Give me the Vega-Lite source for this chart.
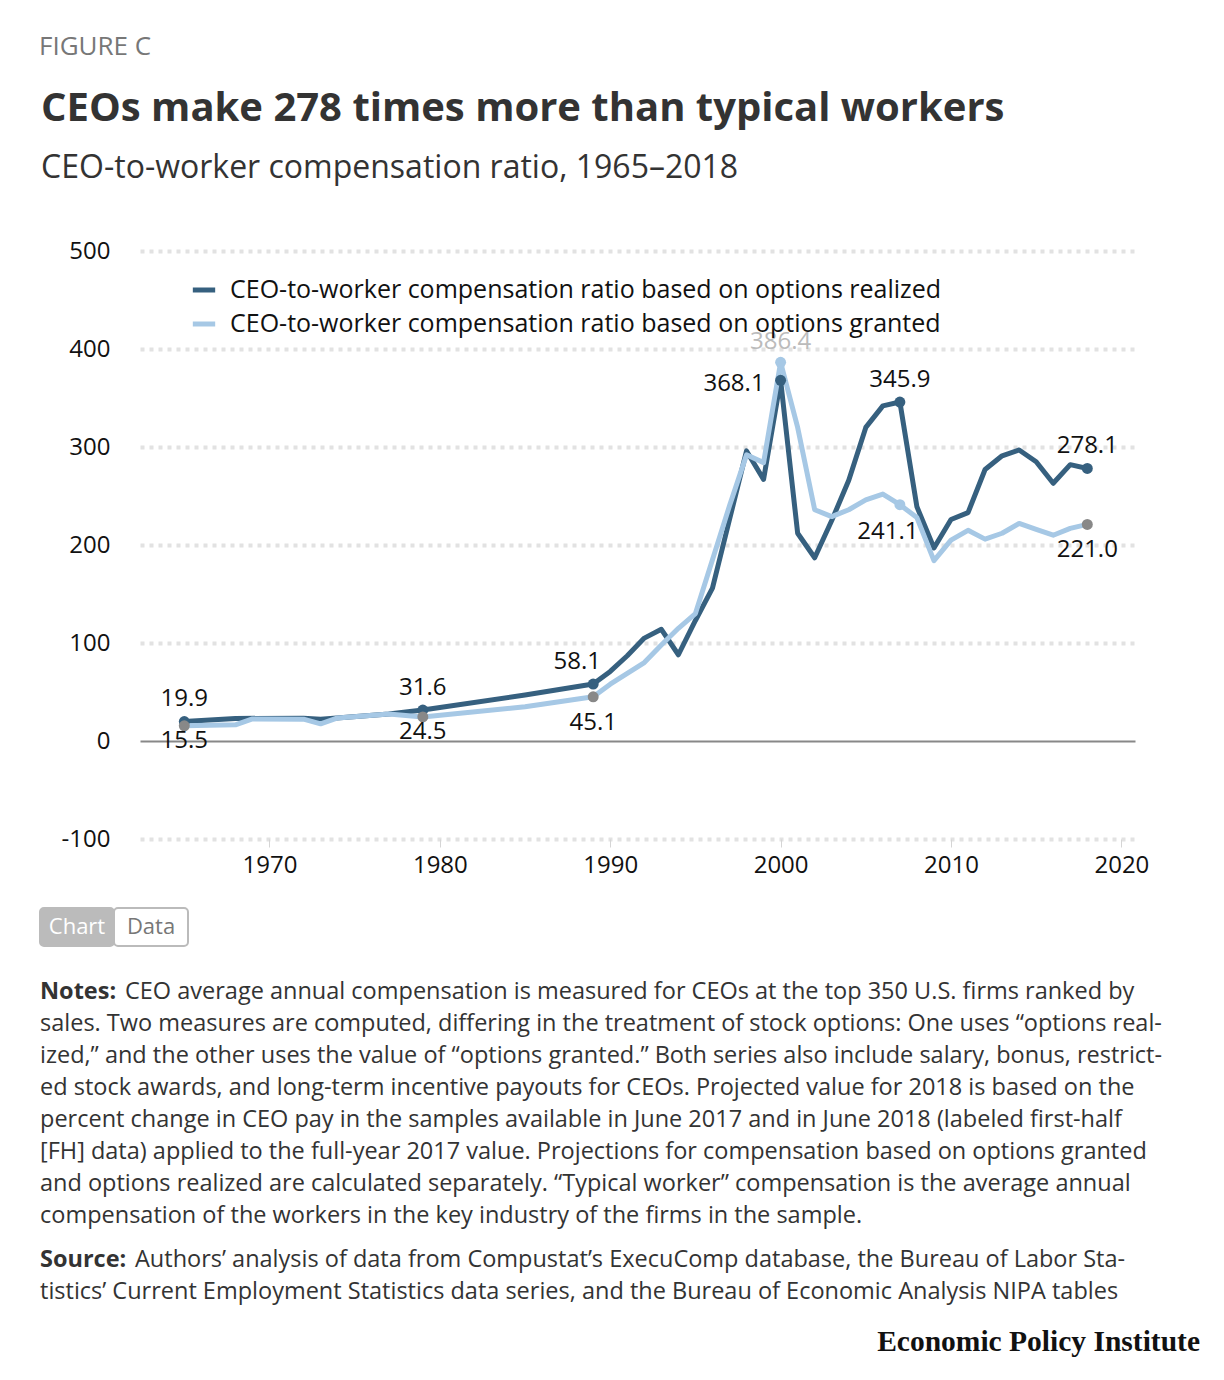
{
  "$schema": "https://vega.github.io/schema/vega-lite/v6.json",
  "background": "white",
  "padding": {"left": 39, "top": 34, "right": 24, "bottom": 10},
  "title": {"text": "FIGURE C", "anchor": "start", "font": "Open Sans", "fontSize": 26, "fontWeight": "normal", "color": "#777", "offset": 29},
  "config": {
    "font": "Open Sans",
    "view": {"stroke": null},
    "axis": {"labelFont": "Open Sans", "labelFontSize": 24, "labelColor": "#111"},
    "legend": {"labelFont": "Open Sans"},
    "text": {"font": "Open Sans"}
  },
  "spacing": 30,
  "vconcat": [
    {
      "title": {
        "text": "CEOs make 278 times more than typical workers",
        "subtitle": "CEO-to-worker compensation ratio, 1965–2018",
        "anchor": "start", "frame": "bounds", "dx": -20,
        "font": "Open Sans", "fontSize": 40, "fontWeight": "bold", "color": "#333",
        "subtitleFont": "Open Sans", "subtitleFontSize": 32, "subtitleColor": "#333",
        "subtitlePadding": 24, "offset": 55
      },
      "width": 995,
      "height": 588,
      "data": {"values": [
        {"year": 1965, "series": "realized", "value": 19.9},
        {"year": 1968, "series": "realized", "value": 23.0},
        {"year": 1972, "series": "realized", "value": 23.3},
        {"year": 1973, "series": "realized", "value": 22.3},
        {"year": 1977, "series": "realized", "value": 27.5},
        {"year": 1979, "series": "realized", "value": 31.6},
        {"year": 1985, "series": "realized", "value": 47.0},
        {"year": 1989, "series": "realized", "value": 58.1},
        {"year": 1990, "series": "realized", "value": 71.0},
        {"year": 1991, "series": "realized", "value": 87.0},
        {"year": 1992, "series": "realized", "value": 105.0},
        {"year": 1993, "series": "realized", "value": 114.0},
        {"year": 1994, "series": "realized", "value": 88.0},
        {"year": 1995, "series": "realized", "value": 123.0},
        {"year": 1996, "series": "realized", "value": 156.0},
        {"year": 1997, "series": "realized", "value": 226.0},
        {"year": 1998, "series": "realized", "value": 296.0},
        {"year": 1999, "series": "realized", "value": 267.0},
        {"year": 2000, "series": "realized", "value": 368.1},
        {"year": 2001, "series": "realized", "value": 212.0},
        {"year": 2002, "series": "realized", "value": 187.0},
        {"year": 2003, "series": "realized", "value": 225.0},
        {"year": 2004, "series": "realized", "value": 266.0},
        {"year": 2005, "series": "realized", "value": 320.0},
        {"year": 2006, "series": "realized", "value": 342.0},
        {"year": 2007, "series": "realized", "value": 345.9},
        {"year": 2008, "series": "realized", "value": 239.0},
        {"year": 2009, "series": "realized", "value": 197.0},
        {"year": 2010, "series": "realized", "value": 226.0},
        {"year": 2011, "series": "realized", "value": 233.0},
        {"year": 2012, "series": "realized", "value": 277.0},
        {"year": 2013, "series": "realized", "value": 291.0},
        {"year": 2014, "series": "realized", "value": 297.0},
        {"year": 2015, "series": "realized", "value": 285.0},
        {"year": 2016, "series": "realized", "value": 263.0},
        {"year": 2017, "series": "realized", "value": 282.0},
        {"year": 2018, "series": "realized", "value": 278.1},
        {"year": 1965, "series": "granted", "value": 15.5},
        {"year": 1968, "series": "granted", "value": 16.5},
        {"year": 1969, "series": "granted", "value": 22.5},
        {"year": 1972, "series": "granted", "value": 22.3},
        {"year": 1973, "series": "granted", "value": 17.5},
        {"year": 1974, "series": "granted", "value": 23.5},
        {"year": 1977, "series": "granted", "value": 27.5},
        {"year": 1979, "series": "granted", "value": 24.5},
        {"year": 1985, "series": "granted", "value": 35.0},
        {"year": 1989, "series": "granted", "value": 45.1},
        {"year": 1990, "series": "granted", "value": 58.0},
        {"year": 1991, "series": "granted", "value": 69.0},
        {"year": 1992, "series": "granted", "value": 80.0},
        {"year": 1993, "series": "granted", "value": 98.0},
        {"year": 1994, "series": "granted", "value": 115.0},
        {"year": 1995, "series": "granted", "value": 130.0},
        {"year": 1996, "series": "granted", "value": 185.0},
        {"year": 1997, "series": "granted", "value": 240.0},
        {"year": 1998, "series": "granted", "value": 292.0},
        {"year": 1999, "series": "granted", "value": 284.0},
        {"year": 2000, "series": "granted", "value": 386.4},
        {"year": 2001, "series": "granted", "value": 320.0},
        {"year": 2002, "series": "granted", "value": 236.0},
        {"year": 2003, "series": "granted", "value": 229.0},
        {"year": 2004, "series": "granted", "value": 236.0},
        {"year": 2005, "series": "granted", "value": 246.0},
        {"year": 2006, "series": "granted", "value": 252.0},
        {"year": 2007, "series": "granted", "value": 241.1},
        {"year": 2008, "series": "granted", "value": 228.0},
        {"year": 2009, "series": "granted", "value": 184.0},
        {"year": 2010, "series": "granted", "value": 205.0},
        {"year": 2011, "series": "granted", "value": 215.0},
        {"year": 2012, "series": "granted", "value": 206.0},
        {"year": 2013, "series": "granted", "value": 212.0},
        {"year": 2014, "series": "granted", "value": 222.0},
        {"year": 2015, "series": "granted", "value": 216.0},
        {"year": 2016, "series": "granted", "value": 210.0},
        {"year": 2017, "series": "granted", "value": 217.0},
        {"year": 2018, "series": "granted", "value": 221.0}
      ]},
      "encoding": {
        "x": {
          "field": "year", "type": "quantitative",
          "scale": {"domain": [1962.4, 2020.8], "nice": false, "zero": false},
          "axis": {"values": [1970, 1980, 1990, 2000, 2010, 2020], "format": "d", "title": null, "domain": false, "grid": false, "ticks": true, "tickSize": 8, "tickColor": "#d5d5d5", "labelPadding": 6}
        },
        "y": {
          "field": "value", "type": "quantitative",
          "scale": {"domain": [-100, 500], "nice": false},
          "axis": {
            "values": [-100, 0, 100, 200, 300, 400, 500], "title": null, "domain": false, "ticks": false, "labelPadding": 30,
            "labelExpr": "replace(datum.label, '−', '-')",
            "grid": true,
            "gridColor": {"condition": {"test": "datum.value === 0", "value": "#888888"}, "value": "#e2e2e2"},
            "gridDash": {"condition": {"test": "datum.value === 0", "value": []}, "value": [4, 5]},
            "gridWidth": {"condition": {"test": "datum.value === 0", "value": 2}, "value": 4}
          }
        }
      },
      "layer": [
        {
          "transform": [{"filter": "datum.series === 'realized'"}],
          "mark": {"type": "line", "strokeWidth": 5, "strokeJoin": "round"},
          "encoding": {
            "color": {
              "field": "series", "type": "nominal",
              "scale": {"domain": ["realized", "granted"], "range": ["#36607f", "#a6c8e5"]},
              "legend": {
                "orient": "none", "legendX": 50, "legendY": 25, "title": null, "padding": 0,
                "symbolType": "stroke", "symbolStrokeWidth": 5, "symbolSize": 500,
                "labelFontSize": 25, "labelColor": "#111", "labelLimit": 1200, "labelOffset": 12, "rowPadding": 7,
                "labelExpr": "datum.label === 'realized' ? 'CEO-to-worker compensation ratio based on options realized' : 'CEO-to-worker compensation ratio based on options granted'"
              }
            }
          }
        },
        {
          "transform": [{"filter": "datum.series === 'granted'"}],
          "mark": {"type": "line", "strokeWidth": 5, "strokeJoin": "round"},
          "encoding": {"color": {"field": "series", "type": "nominal"}}
        },
        {
          "transform": [{"filter": "datum.series === 'realized' && indexof([1965, 1979, 1989, 2000, 2007, 2018], datum.year) >= 0"}],
          "mark": {"type": "point", "filled": true, "opacity": 1, "size": 120, "color": "#36607f"}
        },
        {
          "transform": [{"filter": "datum.series === 'granted' && indexof([2000, 2007], datum.year) >= 0"}],
          "mark": {"type": "point", "filled": true, "opacity": 1, "size": 120, "color": "#a6c8e5"}
        },
        {
          "transform": [{"filter": "datum.series === 'granted' && indexof([1965, 1979, 1989, 2018], datum.year) >= 0"}],
          "mark": {"type": "point", "filled": true, "opacity": 1, "size": 120, "color": "#888888"}
        },
        {
          "transform": [{"filter": "datum.series === 'realized' && indexof([1965, 1979, 2007, 2018], datum.year) >= 0"}],
          "mark": {"type": "text", "fontSize": 24, "color": "#111", "dy": -22},
          "encoding": {"text": {"field": "value", "format": ".1f"}}
        },
        {
          "transform": [{"filter": "datum.series === 'realized' && datum.year === 1989"}],
          "mark": {"type": "text", "fontSize": 24, "color": "#111", "dy": -22, "dx": -16},
          "encoding": {"text": {"field": "value", "format": ".1f"}}
        },
        {
          "transform": [{"filter": "datum.series === 'realized' && datum.year === 2000"}],
          "mark": {"type": "text", "fontSize": 24, "color": "#111", "align": "right", "dx": -16, "dy": 4},
          "encoding": {"text": {"field": "value", "format": ".1f"}}
        },
        {
          "transform": [{"filter": "datum.series === 'granted' && indexof([1965, 1979], datum.year) >= 0"}],
          "mark": {"type": "text", "fontSize": 24, "color": "#111", "dy": 15},
          "encoding": {"text": {"field": "value", "format": ".1f"}}
        },
        {
          "transform": [{"filter": "datum.series === 'granted' && indexof([1989, 2018], datum.year) >= 0"}],
          "mark": {"type": "text", "fontSize": 24, "color": "#111", "dy": 26},
          "encoding": {"text": {"field": "value", "format": ".1f"}}
        },
        {
          "transform": [{"filter": "datum.series === 'granted' && datum.year === 2007"}],
          "mark": {"type": "text", "fontSize": 24, "color": "#111", "dy": 27, "dx": -12},
          "encoding": {"text": {"field": "value", "format": ".1f"}}
        },
        {
          "transform": [{"filter": "datum.series === 'granted' && datum.year === 2000"}],
          "mark": {"type": "text", "fontSize": 24, "color": "#bbbbbb", "dy": -20},
          "encoding": {"text": {"field": "value", "format": ".1f"}}
        }
      ]
    },
    {
      "width": 148,
      "height": 38,
      "data": {"values": [{"tab": "Chart"}, {"tab": "Data"}]},
      "encoding": {
        "x": {"field": "tab", "type": "nominal", "scale": {"paddingInner": 0, "paddingOuter": 0}, "axis": null}
      },
      "layer": [
        {
          "mark": {"type": "rect", "stroke": "#bbbbbb", "strokeWidth": 2, "cornerRadius": 4, "xOffset": -100, "x2Offset": -100},
          "encoding": {"fill": {"condition": {"test": "datum.tab === 'Chart'", "value": "#bbbbbb"}, "value": "#ffffff"}}
        },
        {
          "mark": {"type": "text", "fontSize": 22, "font": "Open Sans", "dx": -100},
          "encoding": {
            "text": {"field": "tab"},
            "color": {"condition": {"test": "datum.tab === 'Chart'", "value": "#ffffff"}, "value": "#777777"}
          }
        }
      ]
    },
    {
      "width": 1060,
      "height": 350,
      "data": {"values": [
        {"line": 0, "block": "notes", "part": "head", "text": "Notes:"},
        {"line": 0, "block": "notes", "part": "body", "text": "CEO average annual compensation is measured for CEOs at the top 350 U.S. firms ranked by"},
        {"line": 1, "block": "notes", "part": "body", "text": "sales. Two measures are computed, differing in the treatment of stock options: One uses “options real-"},
        {"line": 2, "block": "notes", "part": "body", "text": "ized,” and the other uses the value of “options granted.” Both series also include salary, bonus, restrict-"},
        {"line": 3, "block": "notes", "part": "body", "text": "ed stock awards, and long-term incentive payouts for CEOs. Projected value for 2018 is based on the"},
        {"line": 4, "block": "notes", "part": "body", "text": "percent change in CEO pay in the samples available in June 2017 and in June 2018 (labeled first-half"},
        {"line": 5, "block": "notes", "part": "body", "text": "[FH] data) applied to the full-year 2017 value. Projections for compensation based on options granted"},
        {"line": 6, "block": "notes", "part": "body", "text": "and options realized are calculated separately. “Typical worker” compensation is the average annual"},
        {"line": 7, "block": "notes", "part": "body", "text": "compensation of the workers in the key industry of the firms in the sample."},
        {"line": 8, "block": "source", "part": "head", "text": "Source:"},
        {"line": 8, "block": "source", "part": "body", "text": "Authors’ analysis of data from Compustat’s ExecuComp database, the Bureau of Labor Sta-"},
        {"line": 9, "block": "source", "part": "body", "text": "tistics’ Current Employment Statistics data series, and the Bureau of Economic Analysis NIPA tables"},
        {"line": 10, "block": "logo", "part": "logo", "text": "Economic Policy Institute"}
      ]},
      "encoding": {
        "y": {"field": "line", "type": "ordinal", "scale": {"type": "point", "padding": 0.47}, "axis": null},
        "x": {"datum": 0, "type": "quantitative", "scale": {"domain": [0, 1]}, "axis": null},
        "text": {"field": "text"}
      },
      "layer": [
        {
          "transform": [{"filter": "datum.block === 'notes' && datum.part === 'body' && datum.line > 0"}],
          "mark": {"type": "text", "align": "left", "fontSize": 23.5, "color": "#333", "dx": -100}
        },
        {
          "transform": [{"filter": "datum.block === 'notes' && datum.part === 'head'"}],
          "mark": {"type": "text", "align": "left", "fontSize": 23.5, "fontWeight": "bold", "color": "#333", "dx": -100}
        },
        {
          "transform": [{"filter": "datum.block === 'notes' && datum.part === 'body' && datum.line === 0"}],
          "mark": {"type": "text", "align": "left", "fontSize": 23.5, "color": "#333", "dx": -15}
        },
        {
          "transform": [{"filter": "datum.block === 'source' && datum.part === 'head'"}],
          "mark": {"type": "text", "align": "left", "fontSize": 23.5, "fontWeight": "bold", "color": "#333", "dy": 12, "dx": -100}
        },
        {
          "transform": [{"filter": "datum.block === 'source' && datum.part === 'body' && datum.line === 8"}],
          "mark": {"type": "text", "align": "left", "fontSize": 23.5, "color": "#333", "dy": 12, "dx": -5}
        },
        {
          "transform": [{"filter": "datum.block === 'source' && datum.part === 'body' && datum.line === 9"}],
          "mark": {"type": "text", "align": "left", "fontSize": 23.5, "color": "#333", "dy": 12, "dx": -100}
        },
        {
          "transform": [{"filter": "datum.block === 'logo'"}],
          "mark": {"type": "text", "align": "right", "fontSize": 29.5, "font": "Liberation Serif", "fontWeight": "bold", "color": "#111", "dy": 30},
          "encoding": {"x": {"datum": 1, "type": "quantitative"}}
        }
      ]
    }
  ]
}
